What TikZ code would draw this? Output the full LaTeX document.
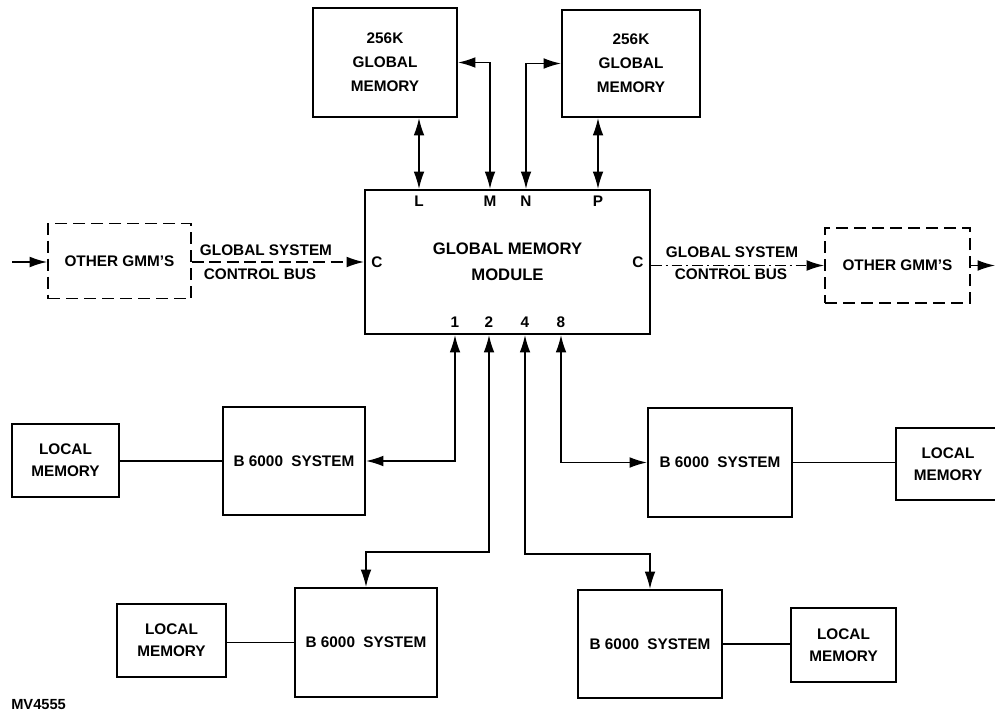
\documentclass[tikz,border=0pt]{standalone}
\usepackage{fontspec}
\setmainfont{Liberation Sans}
\usetikzlibrary{arrows.meta}
\begin{document}
\begin{tikzpicture}[x=0.75pt,y=-0.75pt,
  font=\fontsize{11.5}{13}\selectfont\bfseries,
  box/.style={draw,line width=1.6pt,inner sep=0pt,align=center},
  dbox/.style={box,line width=1.4pt,dash pattern=on 9pt off 4.5pt},
  lbl/.style={inner sep=0pt},
  tip/.tip={Latex[length=13pt,width=8pt]},
  conn/.style={line width=1pt,tip-tip},
  oneway/.style={line width=1pt,-tip}]
\useasboundingbox (0,0) rectangle (995,713);

% boxes
\node[box,minimum width=108pt,minimum height=81.75pt,font=\fontsize{11.5}{18}\selectfont\bfseries] (gm1) at (385,62.5) {256K\\GLOBAL\\MEMORY};
\node[box,minimum width=103.5pt,minimum height=80.25pt,font=\fontsize{11.5}{18}\selectfont\bfseries] (gm2) at (631,63.5) {256K\\GLOBAL\\MEMORY};
\node[box,minimum width=213.75pt,minimum height=108pt,font=\fontsize{12.5}{19.5}\selectfont\bfseries] (gmm) at (507.5,262) {GLOBAL MEMORY\\MODULE};
\node[dbox,minimum width=107.25pt,minimum height=56.25pt] (og1) at (119.5,261) {OTHER GMM'S};
\node[dbox,minimum width=108.75pt,minimum height=56.25pt] (og2) at (897.5,265.5) {OTHER GMM'S};

\node[box,minimum width=106.5pt,minimum height=81pt] (sysL) at (294,461) {B 6000\hspace{3pt} SYSTEM};
\node[box,minimum width=80.25pt,minimum height=54.75pt,font=\fontsize{11.5}{16.5}\selectfont\bfseries] (lmL) at (65.5,460.5) {LOCAL\\MEMORY};
\node[box,minimum width=108pt,minimum height=81.75pt] (sysR) at (720,462.5) {B 6000\hspace{3pt} SYSTEM};
\node[box,minimum width=78pt,minimum height=54pt,font=\fontsize{11.5}{16.5}\selectfont\bfseries] (lmR) at (948,464) {LOCAL\\MEMORY};
\node[box,minimum width=106.5pt,minimum height=81.75pt] (sysBL) at (366,642.5) {B 6000\hspace{3pt} SYSTEM};
\node[box,minimum width=81.75pt,minimum height=54.75pt,font=\fontsize{11.5}{16.5}\selectfont\bfseries] (lmBL) at (171.5,640.5) {LOCAL\\MEMORY};
\node[box,minimum width=108pt,minimum height=81pt] (sysBR) at (650,644) {B 6000\hspace{3pt} SYSTEM};
\node[box,minimum width=78.75pt,minimum height=55.5pt,font=\fontsize{11.5}{16.5}\selectfont\bfseries] (lmBR) at (843.5,645) {LOCAL\\MEMORY};

% port labels
\node[lbl] (pL) at (419,201) {L};
\node[lbl] (pM) at (490,201) {M};
\node[lbl] (pN) at (526,201) {N};
\node[lbl] (pP) at (598,201) {P};
\node[lbl] (p1) at (455,322) {1};
\node[lbl] (p2) at (489,322) {2};
\node[lbl] (p4) at (525,322) {4};
\node[lbl] (p8) at (561,322) {8};
\node[lbl] (cL) at (377,262) {C};
\node[lbl] (cR) at (638,262) {C};

% bus labels
\node[lbl] (bl1) at (266,250) {GLOBAL SYSTEM};
\node[lbl] (bl2) at (260,274) {CONTROL BUS};
\node[lbl] (br1) at (732,252) {GLOBAL SYSTEM};
\node[lbl] (br2) at (731,274) {CONTROL BUS};
\node[lbl,anchor=west,font=\fontsize{11}{12}\selectfont\bfseries] (mv) at (11,705) {MV4555};

% coordinates
\coordinate (xL) at (419,0);
\coordinate (xM) at (490,0);
\coordinate (xN) at (526,0);
\coordinate (xP) at (598,0);
\coordinate (x1) at (455,0);
\coordinate (x8) at (561,0);
\coordinate (j2) at (489,552);
\coordinate (j4) at (525,554);
\coordinate (inL) at (12,262);
\coordinate (outR) at (995,262);

% top connections
\draw[conn] (gm1.south -| xL) -- (gmm.north -| xL);
\draw[conn] (gm1.east) -| (gmm.north -| xM);
\draw[conn] (gmm.north -| xN) |- (gm2.west);
\draw[conn] (gm2.south -| xP) -- (gmm.north -| xP);

% bottom connections
\draw[conn] (gmm.south -| x1) |- (sysL.east);
\draw[conn] (gmm.south -| j2) -- (j2) -| (sysBL.north);
\draw[conn] (gmm.south -| j4) -- (j4) -| (sysBR.north);
\draw[conn] (gmm.south -| x8) |- (sysR.west);

% local memory links
\draw[line width=1pt] (sysL.west -| lmL.east) -- (sysL.west);
\draw[line width=1pt] (sysR.east) -- (sysR.east -| lmR.west);
\draw[line width=1pt] (sysBL.west -| lmBL.east) -- (sysBL.west);
\draw[line width=1pt] (sysBR.east) -- (sysBR.east -| lmBR.west);

% control bus
\draw[oneway] (inL) -- (og1.west |- inL);
\draw[oneway,dash pattern=on 9pt off 4pt] (og1.east |- inL) -- (gmm.west |- inL);
\draw[oneway,dash pattern=on 8pt off 3pt on 1.5pt off 3pt] (gmm.east |- og2.west) -- (og2.west);
\draw[oneway] (og2.east) -- (outR |- og2.east);
\end{tikzpicture}
\end{document}
